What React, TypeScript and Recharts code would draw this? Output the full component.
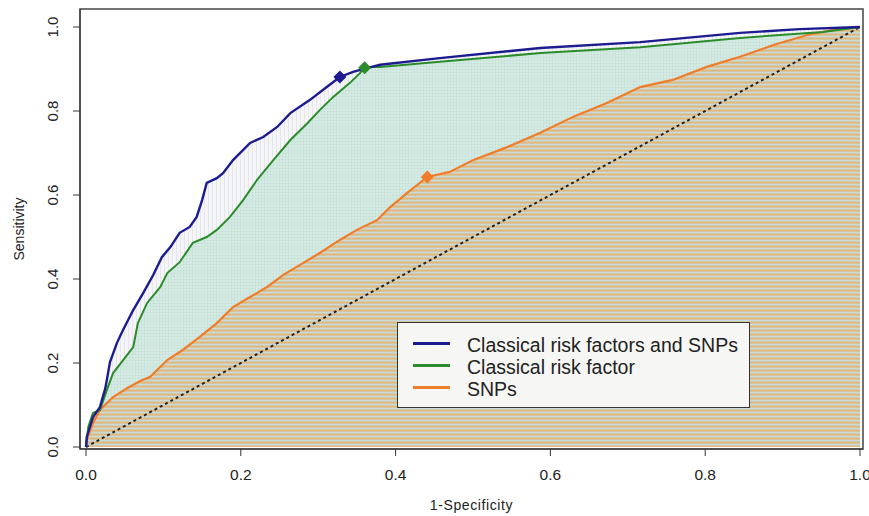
import React from "react";
import {
  ComposedChart,
  Area,
  Line,
  Scatter,
  XAxis,
  YAxis,
  ReferenceArea,
} from "recharts";

// ROC curves: false positive rate (1-specificity) vs sensitivity
const combinedFpr = [0, 0.001, 0.009, 0.018, 0.025, 0.031, 0.04, 0.048, 0.061, 0.074, 0.087, 0.098, 0.109, 0.121, 0.134, 0.143, 0.15, 0.156, 0.169, 0.177, 0.19, 0.212, 0.229, 0.247, 0.264, 0.289, 0.311, 0.328, 0.345, 0.363, 0.38, 0.457, 0.587, 0.716, 0.845, 0.922, 1];
const combinedTpr = [0, 0.024, 0.071, 0.095, 0.14, 0.202, 0.248, 0.279, 0.326, 0.367, 0.41, 0.452, 0.476, 0.51, 0.524, 0.548, 0.588, 0.629, 0.64, 0.652, 0.683, 0.724, 0.738, 0.762, 0.795, 0.826, 0.857, 0.881, 0.893, 0.902, 0.91, 0.926, 0.95, 0.964, 0.986, 0.995, 1];

const classicalFpr = [0, 0.003, 0.009, 0.018, 0.027, 0.035, 0.048, 0.061, 0.067, 0.079, 0.096, 0.105, 0.121, 0.138, 0.156, 0.169, 0.186, 0.203, 0.221, 0.242, 0.264, 0.286, 0.302, 0.319, 0.341, 0.354, 0.36, 0.38, 0.457, 0.587, 0.716, 0.845, 0.952, 1];
const classicalTpr = [0, 0.048, 0.081, 0.088, 0.136, 0.176, 0.207, 0.238, 0.295, 0.343, 0.381, 0.414, 0.44, 0.486, 0.5, 0.517, 0.548, 0.588, 0.636, 0.683, 0.731, 0.771, 0.802, 0.833, 0.867, 0.89, 0.905, 0.905, 0.917, 0.938, 0.952, 0.974, 0.988, 1];

const snpFpr = [0, 0.001, 0.009, 0.018, 0.035, 0.053, 0.07, 0.083, 0.105, 0.125, 0.147, 0.169, 0.19, 0.212, 0.234, 0.255, 0.276, 0.302, 0.328, 0.35, 0.376, 0.393, 0.415, 0.441, 0.47, 0.5, 0.544, 0.587, 0.629, 0.673, 0.716, 0.758, 0.802, 0.845, 0.888, 0.932, 0.965, 1];
const snpTpr = [0, 0.017, 0.057, 0.088, 0.119, 0.14, 0.157, 0.167, 0.207, 0.231, 0.262, 0.295, 0.333, 0.357, 0.381, 0.41, 0.433, 0.462, 0.493, 0.517, 0.54, 0.571, 0.605, 0.643, 0.655, 0.683, 0.714, 0.748, 0.786, 0.819, 0.857, 0.874, 0.905, 0.929, 0.957, 0.981, 0.993, 1];

// best cut-off points (diamonds)
const cutoffFpr = [0.328, 0.36, 0.441];
const cutoffTpr = [0.881, 0.903, 0.643];

const seriesNames = ["Classical risk factors and SNPs", "Classical risk factor", "SNPs"];
const seriesColors = ["#1c1c90", "#2a8c2a", "#f07d2a"];
const axisTicks = [0, 0.2, 0.4, 0.6, 0.8, 1];

const toPoints = (xs: number[], ys: number[]) => xs.map((x, i) => ({ x, y: ys[i] }));

const combined = toPoints(combinedFpr, combinedTpr);
const classical = toPoints(classicalFpr, classicalTpr);
const snps = toPoints(snpFpr, snpTpr);
const chance = toPoints([0, 1], [0, 1]);
const cutoffs = cutoffFpr.map((x, i) => [{ x, y: cutoffTpr[i] }]);

const FONT = '"Liberation Sans", Arial, Helvetica, sans-serif';
const xDomain = [-6 / 774, 1 + 3 / 774];
const yDomain = [-2 / 420, 1 + 18 / 420];

const XTick = (props: any) => {
  const { x, y, payload } = props;
  return (
    <text x={x} y={y + 22} textAnchor="middle" fontSize={15.5} fill="#222" fontFamily={FONT}>
      {payload.value.toFixed(1)}
    </text>
  );
};

const YTick = (props: any) => {
  const { x, y, payload } = props;
  const tx = x - 13;
  return (
    <text
      x={tx}
      y={y}
      transform={`rotate(-90, ${tx}, ${y})`}
      textAnchor="middle"
      fontSize={15}
      fill="#222"
      fontFamily={FONT}
    >
      {payload.value.toFixed(1)}
    </text>
  );
};

const Diamond = (props: any) => {
  const { cx, cy, fill } = props;
  const r = 6.5;
  return <polygon points={`${cx},${cy - r} ${cx + r},${cy} ${cx},${cy + r} ${cx - r},${cy}`} fill={fill} />;
};

const RocLegend = () => (
  <div
    style={{
      position: "absolute",
      left: 397,
      top: 322,
      width: 353,
      height: 86,
      boxSizing: "border-box",
      border: "1.5px solid #333",
      background: "#f6f6f4",
      fontFamily: FONT,
    }}
  >
    {seriesNames.map((name, i) => (
      <div key={name} style={{ position: "absolute", left: 0, top: 11 + i * 22, height: 22, width: "100%" }}>
        <div
          style={{
            position: "absolute",
            left: 15,
            top: 8,
            width: 37,
            height: 3,
            background: seriesColors[i],
          }}
        />
        <span
          style={{
            position: "absolute",
            left: 69,
            top: 0,
            fontSize: 19.5,
            lineHeight: "22px",
            color: "#222",
            whiteSpace: "nowrap",
          }}
        >
          {name}
        </span>
      </div>
    ))}
  </div>
);

export default function App() {
  return (
    <div style={{ position: "absolute", left: 0, top: 0, width: 869, height: 516, background: "#fff" }}>
      <ComposedChart width={869} height={516} margin={{ top: 9, right: 6, left: 0, bottom: 0 }}>
        <defs>
          <pattern id="lavFill" width="4" height="4" patternUnits="userSpaceOnUse">
            <rect width="4" height="4" fill="#f5f5f8" />
            <rect x="0" width="1" height="4" fill="#e6e6ee" />
          </pattern>
          <pattern id="tealFill" width="3" height="3" patternUnits="userSpaceOnUse">
            <rect width="3" height="3" fill="#d0e7df" />
            <rect x="0" y="0" width="1" height="1" fill="#bddcd3" />
            <rect x="1.5" y="1.5" width="1" height="1" fill="#dcefe9" />
          </pattern>
          <pattern id="orangeFill" width="4" height="4" patternUnits="userSpaceOnUse">
            <rect width="4" height="4" fill="#d6c8a5" />
            <rect y="0" width="4" height="1" fill="#c6dbe0" />
            <rect y="2" width="4" height="1.2" fill="#dfb880" />
          </pattern>
        </defs>
        <XAxis
          type="number"
          dataKey="x"
          domain={xDomain}
          allowDataOverflow
          ticks={axisTicks}
          tick={<XTick />}
          tickSize={7}
          height={67}
          stroke="#333"
          label={{
            value: "1-Specificity",
            position: "insideBottom",
            offset: 6,
            fontSize: 14,
            fill: "#222",
            fontFamily: FONT,
            style: { letterSpacing: "0.6px" },
          }}
        />
        <YAxis
          type="number"
          dataKey="y"
          domain={yDomain}
          allowDataOverflow
          ticks={axisTicks}
          tick={<YTick />}
          tickSize={7}
          width={80}
          stroke="#333"
          label={{
            value: "Sensitivity",
            angle: -90,
            position: "insideLeft",
            offset: 19,
            fontSize: 14,
            fill: "#222",
            fontFamily: FONT,
            style: { textAnchor: "middle" },
          }}
        />
        <Area data={combined} dataKey="y" type="linear" baseValue={0} stroke="none" fill="url(#lavFill)" fillOpacity={1} isAnimationActive={false} />
        <Area data={classical} dataKey="y" type="linear" baseValue={0} stroke="none" fill="url(#tealFill)" fillOpacity={1} isAnimationActive={false} />
        <Area data={snps} dataKey="y" type="linear" baseValue={0} stroke="none" fill="url(#orangeFill)" fillOpacity={1} isAnimationActive={false} />
        <Line data={chance} dataKey="y" type="linear" stroke="#222" strokeWidth={2} strokeDasharray="3 3" dot={false} isAnimationActive={false} />
        <Line data={snps} dataKey="y" type="linear" stroke={seriesColors[2]} strokeWidth={2.2} dot={false} isAnimationActive={false} />
        <Line data={classical} dataKey="y" type="linear" stroke={seriesColors[1]} strokeWidth={2} dot={false} isAnimationActive={false} />
        <Line data={combined} dataKey="y" type="linear" stroke={seriesColors[0]} strokeWidth={2.4} dot={false} isAnimationActive={false} />
        {cutoffs.map((pt, i) => (
          <Scatter key={i} data={pt} dataKey="y" fill={seriesColors[i]} shape={<Diamond />} isAnimationActive={false} />
        ))}
        <ReferenceArea
          x1={xDomain[0]}
          x2={xDomain[1]}
          y1={yDomain[0]}
          y2={yDomain[1]}
          fill="none"
          stroke="#444"
          strokeWidth={1.5}
          ifOverflow="visible"
        />
      </ComposedChart>
      <RocLegend />
    </div>
  );
}
